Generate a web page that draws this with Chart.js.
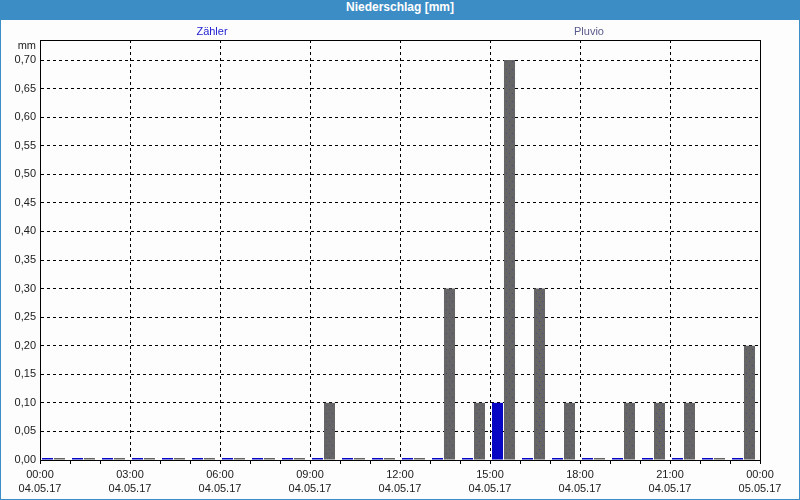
<!DOCTYPE html>
<html>
<head>
<meta charset="utf-8">
<script src="https://cdn.jsdelivr.net/npm/chart.js@4/dist/chart.umd.min.js"></script>
<style>
  html, body {
    margin: 0;
    padding: 0;
    background: #fcfdfc;
  }

  #frame {
    position: absolute;
    left: 0;
    top: 0;
    width: 800px;
    height: 500px;
    box-sizing: border-box;
    border-left: 1px solid #3c8dc5;
    border-right: 1px solid #3c8dc5;
    border-bottom: 1px solid #3c8dc5;
    background: #fcfdfc;
  }

  #titleBar {
    position: absolute;
    left: -1px;
    top: 0;
    width: 800px;
    height: 20px;
    line-height: 21px;
    background: #3c8dc5;
    color: #ffffff;
    font: bold 12px "Liberation Sans", Arial, sans-serif;
    text-align: center;
  }

  #chartBox {
    position: absolute;
    left: 0;
    top: 20px;
    width: 798px;
    height: 479px;
  }
</style>
</head>
<body>

<div id="frame">
  <div id="titleBar">Niederschlag [mm]</div>
  <div id="chartBox">
    <canvas id="rainChart"></canvas>
  </div>
</div>

<script>

// =========================
// DATA
// =========================

const hours = [
  0, 1, 2, 3, 4, 5, 6, 7, 8, 9, 10, 11,
  12, 13, 14, 15, 16, 17, 18, 19, 20, 21, 22, 23
];

const zaehlerValues = [
  0, 0, 0, 0, 0, 0, 0, 0, 0, 0, 0, 0,
  0, 0, 0, 0.10, 0, 0, 0, 0, 0, 0, 0, 0
];

const pluvioValues = [
  0, 0, 0, 0, 0, 0, 0, 0, 0, 0.10, 0, 0,
  0, 0.30, 0.10, 0.70, 0.30, 0.10, 0, 0.10, 0.10, 0.10, 0, 0.20
];

const xTickTimes = [
  "00:00", "03:00", "06:00", "09:00", "12:00",
  "15:00", "18:00", "21:00", "00:00"
];

const xTickDates = [
  "04.05.17", "04.05.17", "04.05.17", "04.05.17", "04.05.17",
  "04.05.17", "04.05.17", "04.05.17", "05.05.17"
];

const yTickValues = [
  0, 0.05, 0.10, 0.15, 0.20, 0.25, 0.30,
  0.35, 0.40, 0.45, 0.50, 0.55, 0.60, 0.65, 0.70
];

const seriesNames = ["Zähler", "Pluvio"];


// =========================
// HELPERS
// =========================

const FONT_FAMILY = "'Liberation Sans', Arial, sans-serif";

function toPoints(values) {
  // bars sit a bit left of the hour centre, like the original
  return hours.map(
    (h, i) => ({ x: h + 0.45, y: values[i] })
  );
}

function makeDotPattern() {
  const tile = document.createElement("canvas");
  tile.width = 6;
  tile.height = 8;
  const c = tile.getContext("2d");
  c.fillStyle = "#656565";
  c.fillRect(0, 0, 6, 8);
  c.fillStyle = "#4a4a82";
  c.fillRect(1, 1, 1, 1);
  c.fillRect(4, 5, 1, 1);
  return c.createPattern(tile, "repeat");
}


// =========================
// FRAME / LABELS PLUGIN
// =========================

const framePlugin = {
  id: "framePlugin",
  afterDraw(chart) {
    const { ctx, chartArea } = chart;

    ctx.save();
    ctx.strokeStyle = "#000000";
    ctx.lineWidth = 1;
    ctx.strokeRect(
      chartArea.left + 0.5,
      chartArea.top + 0.5,
      Math.round(chartArea.right - chartArea.left),
      Math.round(chartArea.bottom - chartArea.top)
    );

    ctx.font = "11px " + FONT_FAMILY;
    ctx.textBaseline = "middle";

    // unit label above the y ticks
    ctx.fillStyle = "#202020";
    ctx.textAlign = "right";
    ctx.fillText("mm", chartArea.left - 4, chartArea.top + 6);

    // series names
    ctx.textAlign = "center";
    ctx.fillStyle = "#1c1cd0";
    ctx.fillText(seriesNames[0], 211, 12);
    ctx.fillStyle = "#5a5a8c";
    ctx.fillText(seriesNames[1], 588, 12);

    ctx.restore();
  }
};


// =========================
// CHART
// =========================

const canvas = document.getElementById("rainChart");

new Chart(canvas, {
  type: "bar",
  data: {
    datasets: [
      {
        label: seriesNames[0],
        data: toPoints(zaehlerValues),
        backgroundColor: "#0606c4",
        borderWidth: 0,
        minBarLength: 2
      },
      {
        label: seriesNames[1],
        data: toPoints(pluvioValues),
        backgroundColor: makeDotPattern(),
        borderWidth: 0,
        minBarLength: 2
      }
    ]
  },
  options: {
    responsive: true,
    maintainAspectRatio: false,
    animation: false,
    categoryPercentage: 0.8,
    barPercentage: 0.92,
    layout: {
      padding: { top: 20, right: 39, left: 0, bottom: 0 }
    },
    plugins: {
      legend: { display: false },
      tooltip: { enabled: false }
    },
    scales: {
      x: {
        type: "linear",
        min: 0,
        max: 24,
        offset: false,
        afterFit(scale) {
          scale.height = 39;
        },
        grid: {
          offset: false,
          color: ctx => (ctx.tick && ctx.tick.value % 3 === 0)
            ? "#000000"
            : "rgba(0,0,0,0)",
          tickColor: "#000000",
          tickLength: 4,
          lineWidth: 1
        },
        border: {
          color: "#000000",
          dash: [3, 3]
        },
        ticks: {
          stepSize: 1,
          autoSkip: false,
          maxRotation: 0,
          minRotation: 0,
          padding: 3,
          color: "#202020",
          font: { family: FONT_FAMILY, size: 11, lineHeight: 1.36 },
          callback: value => {
            if (value % 3 !== 0) return "";
            const i = value / 3;
            return [xTickTimes[i], xTickDates[i]];
          }
        }
      },
      y: {
        min: 0,
        max: 0.735,
        afterFit(scale) {
          scale.width = 39;
        },
        afterBuildTicks(scale) {
          scale.ticks = yTickValues.map(v => ({ value: v }));
        },
        grid: {
          color: "#000000",
          drawTicks: false,
          lineWidth: 1
        },
        border: {
          color: "#000000",
          dash: [3, 3]
        },
        ticks: {
          padding: 4,
          color: "#202020",
          font: { family: FONT_FAMILY, size: 11 },
          callback: value => value.toFixed(2).replace(".", ",")
        }
      }
    }
  },
  plugins: [framePlugin]
});

</script>
</body>
</html>
